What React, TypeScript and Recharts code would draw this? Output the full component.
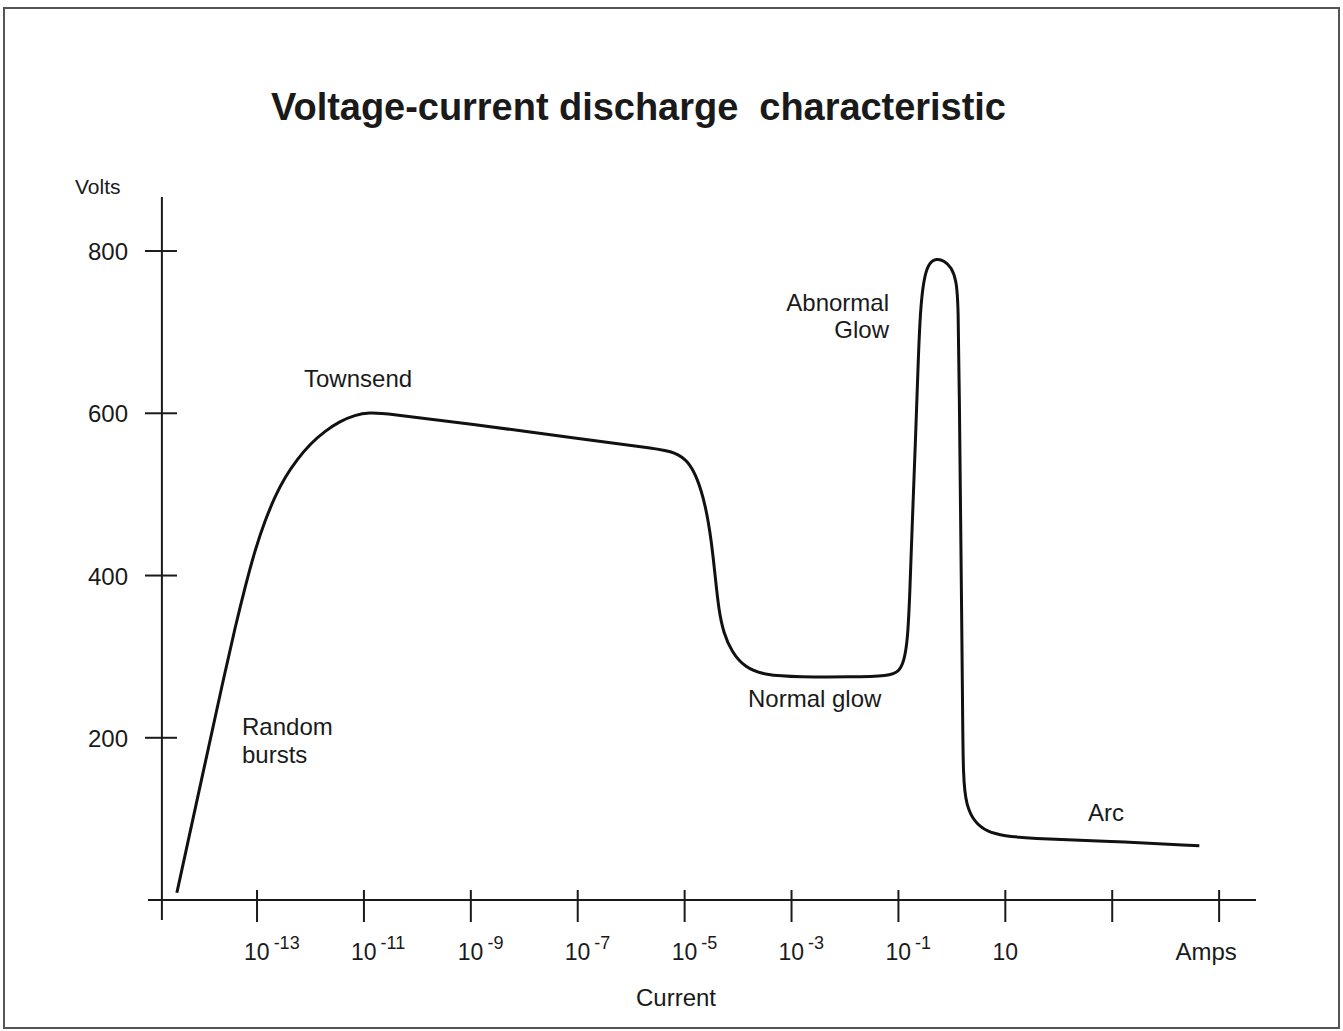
import { LineChart, Line, XAxis, YAxis, ReferenceLine } from 'recharts';

// current is stored as log10(amps), the axis is logarithmic in the original
const logCurrent = [
  -14.5, -14.05, -13.6, -13.41, -13.22, -13.04, -12.85, -12.66, -12.48, -12.25, -12.01, -11.73, -11.45,
  -11.17, -10.89, -10.61,
  -9.02, -7.02, -5.47, -5.19, -4.94, -4.76, -4.61, -4.5, -4.42, -4.36, -4.27, -4.12, -3.88, -3.5,
  -2.85, -1.92, -1.17, -0.98, -0.89, -0.83, -0.79, -0.74, -0.68, -0.63, -0.59, -0.53, -0.44, -0.29,
  -0.14, -0.01, 0.08, 0.12, 0.14, 0.16, 0.18, 0.2, 0.21, 0.27, 0.42, 0.66, 0.98, 1.45, 2.76, 4.63,
];
const volts = [
  9, 145, 281, 336, 387, 431, 468, 498, 521, 543, 562, 578, 590,
  598, 601, 600,
  587, 569, 556, 552, 542, 520, 487, 444, 394, 357, 329, 306, 287, 277,
  275, 275, 276, 282, 296, 320, 370, 468, 567, 665, 727, 764, 785, 791,
  788, 780, 764, 739, 616, 493, 370, 246, 148, 117, 96, 84, 79, 76, 73, 67,
];

const xTicks = [-13, -11, -9, -7, -5, -3, -1, 1, 3, 5];
const xTickBase = ['10', '10', '10', '10', '10', '10', '10', '10', '', 'Amps'];
const xTickExp = ['-13', '-11', '-9', '-7', '-5', '-3', '-1', '', '', ''];
const yTicks = [200, 400, 600, 800];

const data = logCurrent.map((x, i) => ({ x, v: volts[i] }));

const FONT = '"Liberation Sans", Arial, Helvetica, sans-serif';
const INK = '#1a1a1a';

const XTick = ({ x, y, index }: any) => {
  const base = xTickBase[index];
  const exp = xTickExp[index];
  return (
    <g>
      <line x1={x} x2={x} y1={y - 30} y2={y + 2} stroke={INK} strokeWidth={2} />
      {exp ? (
        <text x={x - 13} y={y + 40} fontSize={23} fill={INK} fontFamily={FONT}>
          {base}
          <tspan dx={4} dy={-11} fontSize={18}>{exp}</tspan>
        </text>
      ) : base ? (
        <text
          x={base === 'Amps' ? x - 13 : x}
          y={y + 40}
          fontSize={base === 'Amps' ? 24 : 23}
          fill={INK}
          fontFamily={FONT}
          textAnchor="middle"
        >
          {base}
        </text>
      ) : null}
    </g>
  );
};

const YTick = ({ x, y, payload }: any) => (
  <g>
    <line x1={x - 3} x2={x + 29} y1={y} y2={y} stroke={INK} strokeWidth={2} />
    <text x={x - 20} y={y + 9} fontSize={24} fill={INK} fontFamily={FONT} textAnchor="end">
      {payload.value}
    </text>
  </g>
);

export default function App() {
  return (
    <div style={{ position: 'absolute', left: 0, top: 0, width: 1343, height: 1031, background: '#fff' }}>
      <div
        style={{
          position: 'absolute', left: 3, top: 7, width: 1333, height: 1018,
          border: '2px solid #555',
        }}
      />
      <LineChart
        width={1343}
        height={1031}
        data={data}
        margin={{ top: 197, right: 87, bottom: 51, left: 88 }}
      >
        <XAxis
          dataKey="x"
          type="number"
          domain={[-15.04, 5.69]}
          ticks={xTicks}
          allowDataOverflow
          axisLine={false}
          tickLine={false}
          tickSize={0}
          tickMargin={0}
          height={60}
          tick={<XTick />}
          interval={0}
        />
        <YAxis
          type="number"
          domain={[-24.6, 866.6]}
          ticks={yTicks}
          allowDataOverflow
          axisLine={false}
          tickLine={false}
          tickSize={0}
          tickMargin={0}
          width={60}
          tick={<YTick />}
          interval={0}
        />
        <ReferenceLine y={0} stroke={INK} strokeWidth={2} />
        <ReferenceLine x={-14.78} stroke={INK} strokeWidth={2} />
        <Line
          type="basis"
          dataKey="v"
          stroke="#111"
          strokeWidth={3}
          dot={false}
          isAnimationActive={false}
        />
      </LineChart>
      <svg
        width={1343}
        height={1031}
        style={{ position: 'absolute', left: 0, top: 0, pointerEvents: 'none' }}
        fontFamily={FONT}
        fill={INK}
      >
        <text x={271} y={120} fontSize={38} fontWeight="bold" textLength={735} style={{ whiteSpace: 'pre' }}>
          Voltage-current discharge  characteristic
        </text>
        <text x={75} y={194} fontSize={21}>Volts</text>
        <text x={304} y={387} fontSize={24}>Townsend</text>
        <text x={242} y={735} fontSize={24}>Random</text>
        <text x={242} y={763} fontSize={24}>bursts</text>
        <text x={889} y={311} fontSize={24} textAnchor="end">Abnormal</text>
        <text x={889} y={338} fontSize={24} textAnchor="end">Glow</text>
        <text x={748} y={707} fontSize={24}>Normal glow</text>
        <text x={1088} y={821} fontSize={24}>Arc</text>
        <text x={676} y={1006} fontSize={24} textAnchor="middle">Current</text>
      </svg>
    </div>
  );
}
